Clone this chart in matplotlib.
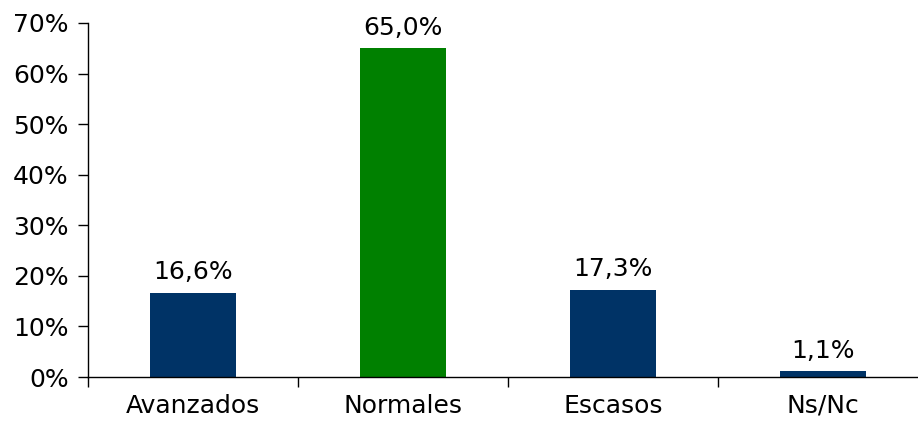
import matplotlib
matplotlib.use("Agg")
import matplotlib.pyplot as plt
import numpy as np

categories = ["Avanzados", "Normales", "Escasos", "Ns/Nc"]
values = [16.6, 65.0, 17.3, 1.1]
colors = ["#003366", "#008000", "#003366", "#003366"]
yticks = [0, 10, 20, 30, 40, 50, 60, 70]

plt.rcParams['font.family'] = ['DejaVu Sans']
fig = plt.figure(figsize=(9.18, 4.23), dpi=100)
ax = fig.add_axes([88/918, 46/423, 840/918, 354/423])

fs = 18
x = np.arange(len(categories))
ax.bar(x, values, width=0.405, color=colors)
for xi, v in zip(x, values):
    ax.text(xi, v + 1.7, f"{v:.1f}%".replace(".", ","), ha="center", va="bottom", fontsize=fs)

ax.set_xlim(-0.5, len(categories) - 0.5)
ax.set_ylim(0, 70)
ax.set_yticks(yticks)
ax.set_yticklabels([f"{t}%" for t in yticks], fontsize=fs)
ax.set_xticks(x)
ax.set_xticklabels(categories, fontsize=fs)
ax.tick_params(axis="x", which="major", length=0, pad=12)
ax.set_xticks(np.arange(-0.5, len(categories) - 0.5, 1.0), minor=True)
ax.tick_params(axis="x", which="minor", length=7, width=1, direction="out")
ax.tick_params(axis="y", length=7, width=1, direction="out", pad=7)
for s in ["top", "right"]:
    ax.spines[s].set_visible(False)
for s in ["left", "bottom"]:
    ax.spines[s].set_linewidth(1)

fig.savefig("out.png", dpi=100)
